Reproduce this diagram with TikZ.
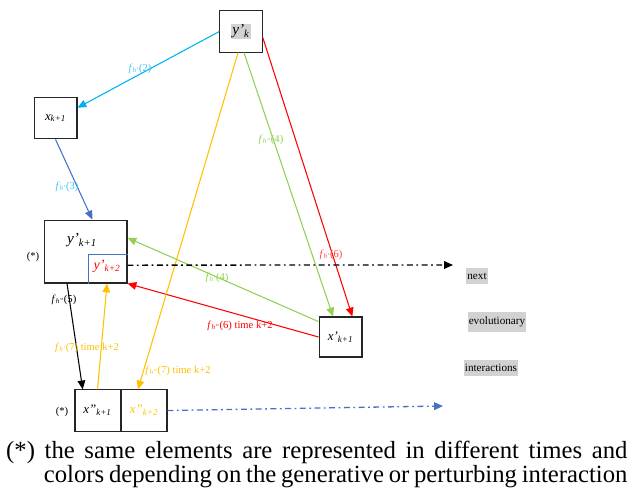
\documentclass[tikz,border=0pt]{standalone}
\usepackage{fontspec}
\setmainfont{Liberation Serif}
\usepackage{xcolor}
\usetikzlibrary{shapes,arrows,arrows.meta,positioning,calc}

\definecolor{hcyan}{RGB}{0,176,240}
\definecolor{hblue}{RGB}{68,114,196}
\definecolor{hgreen}{RGB}{146,208,80}
\definecolor{hred}{RGB}{255,0,0}
\definecolor{horange}{RGB}{255,192,0}

\tikzset{
  box/.style={rectangle, draw=black!85, line width=0.9pt, inner sep=0pt},
  tag/.style={fill=gray!35, inner xsep=1pt, inner ysep=4pt, font=\fontsize{9.5}{11}\selectfont},
  conn/.style={->, line width=0.9pt},
  dashdot/.style={->, line width=1.1pt, dash pattern=on 5pt off 3pt on 1.5pt off 3pt}
}

\begin{document}
\begin{tikzpicture}[x=0.85pt, y=-0.85pt, >={Triangle[width=6.5pt,length=7.5pt]}, every node/.style={font=\fontsize{9}{10}\selectfont}]
				\useasboundingbox (0,0) rectangle (627,490);
				% elements
				\node[box, minimum width=36pt, minimum height=35pt] (yk) at (241,31.5) {\setlength\fboxsep{1pt}\colorbox{gray!35}{\fontsize{13}{15}\selectfont\textit{y'}\textsubscript{\textit{k}}}};
				\node[box, minimum width=36.5pt, minimum height=35.5pt] (xk) at (55.5,118) {\fontsize{11}{13}\selectfont\textit{x}\textsubscript{\textit{k+1}}};
				\node[box, minimum width=70.5pt, minimum height=53.5pt] (yk1) at (85.5,251.5) {};
				\node[font=\fontsize{13}{15}\selectfont] (yk1txt) at (82,240) {\textit{y'}\textsubscript{\textit{k+1}}};
				\node[inner sep=0pt, minimum width=33pt, minimum height=24.5pt, anchor=south east] (yk2) at (yk1.south east) {};
				\node[text=hred, font=\fontsize{12}{14}\selectfont] (yk2txt) at (107,266) {\textit{y'}\textsubscript{\textit{k+2}}};
				\draw[hblue, line width=0.7pt] (yk2.south west) |- (yk2.north east);
				\node[box, minimum width=36.5pt, minimum height=34pt] (xp) at (340.5,337) {\fontsize{11}{13}\selectfont\textit{x'}\textsubscript{\textit{k+1}}};
				\node[box, minimum width=38.3pt, minimum height=35pt] (xpp1) at (97.5,410.5) {\fontsize{11}{13}\selectfont\textit{x''}\textsubscript{\textit{k+1}}};
				\node[box, minimum width=39pt, minimum height=35pt, right=0pt of xpp1, text=horange] (xpp2) {\fontsize{11}{13}\selectfont\textit{x''}\textsubscript{\textit{k+2}}};
				\node (star1) at (33,257) {(*)};
				\node (star2) at (62,412) {(*)};
				
				% interactions
				\draw[conn, hcyan] (yk.west) -- (xk.25);
				\node[text=hcyan!75] (l2) at (140,69) {\textit{f}\textsubscript{\textit{h'}}(2)};
				\draw[conn, hblue] (xk.south) -- (yk1.78);
				\node[text=hcyan!75] (l3) at (67,187) {\textit{f}\textsubscript{\textit{h'}}(3)};
				\draw[conn, hgreen] (yk.-82) -- (xp.110);
				\node[text=hgreen] (l4a) at (271,140) {\textit{f}\textsubscript{\textit{h''}}(4)};
				\draw[conn, hred] (yk.-15) -- (xp.60);
				\node[text=hred!75] (l6a) at (331,255) {\textit{f}\textsubscript{\textit{h'}}(6)};
				\draw[conn, hgreen] (xp.145) -- (yk1.18);
				\node[text=hgreen] (l4b) at (217,278) {\textit{f}\textsubscript{\textit{h'}}(4)};
				\draw[conn, hred] (xp.west) -- (yk1.south east);
				\node[text=hred] (l6b) at (240,326) {\textit{f}\textsubscript{\textit{h''}}(6) time k+2};
				\draw[conn, black] (yk1.-120) -- (xpp1.125);
				\node (l5) at (64,300) {\textit{f}\textsubscript{\textit{h''}}(5)};
				\draw[conn, horange] (xpp1.north) -- (yk1.-56);
				\node[text=horange] (l7a) at (87,348) {\textit{f}\textsubscript{\textit{h'}}(7) time k+2};
				\draw[conn, horange] (yk.-98) -- (xpp2.106);
				\node[text=horange] (l7b) at (178,371) {\textit{f}\textsubscript{\textit{h''}}(7) time k+2};
				
				% next interactions
				\coordinate (nx1) at (453,265);
				\coordinate (nx2) at (443,406);
				\draw[dashdot, black] (yk1.-18) -- (nx1);
				\draw[dashdot, hblue] (xpp2.east) -- (nx2);
				\node[tag] (next) at (477,276) {next};
				\node[tag] (evol) at (497,322) {evolutionary};
				\node[tag] (inter) at (491,368) {interactions};
				
				\node[anchor=north west, text width=528pt, align=justify, inner sep=0pt, font=\fontsize{21}{20.4}\selectfont] (note) at (6,441) {\hangindent=32pt\hangafter=1 (*) the same elements are represented in different times and\linebreak colors depending on the generative or perturbing interaction\par};
			\end{tikzpicture}
\end{document}
